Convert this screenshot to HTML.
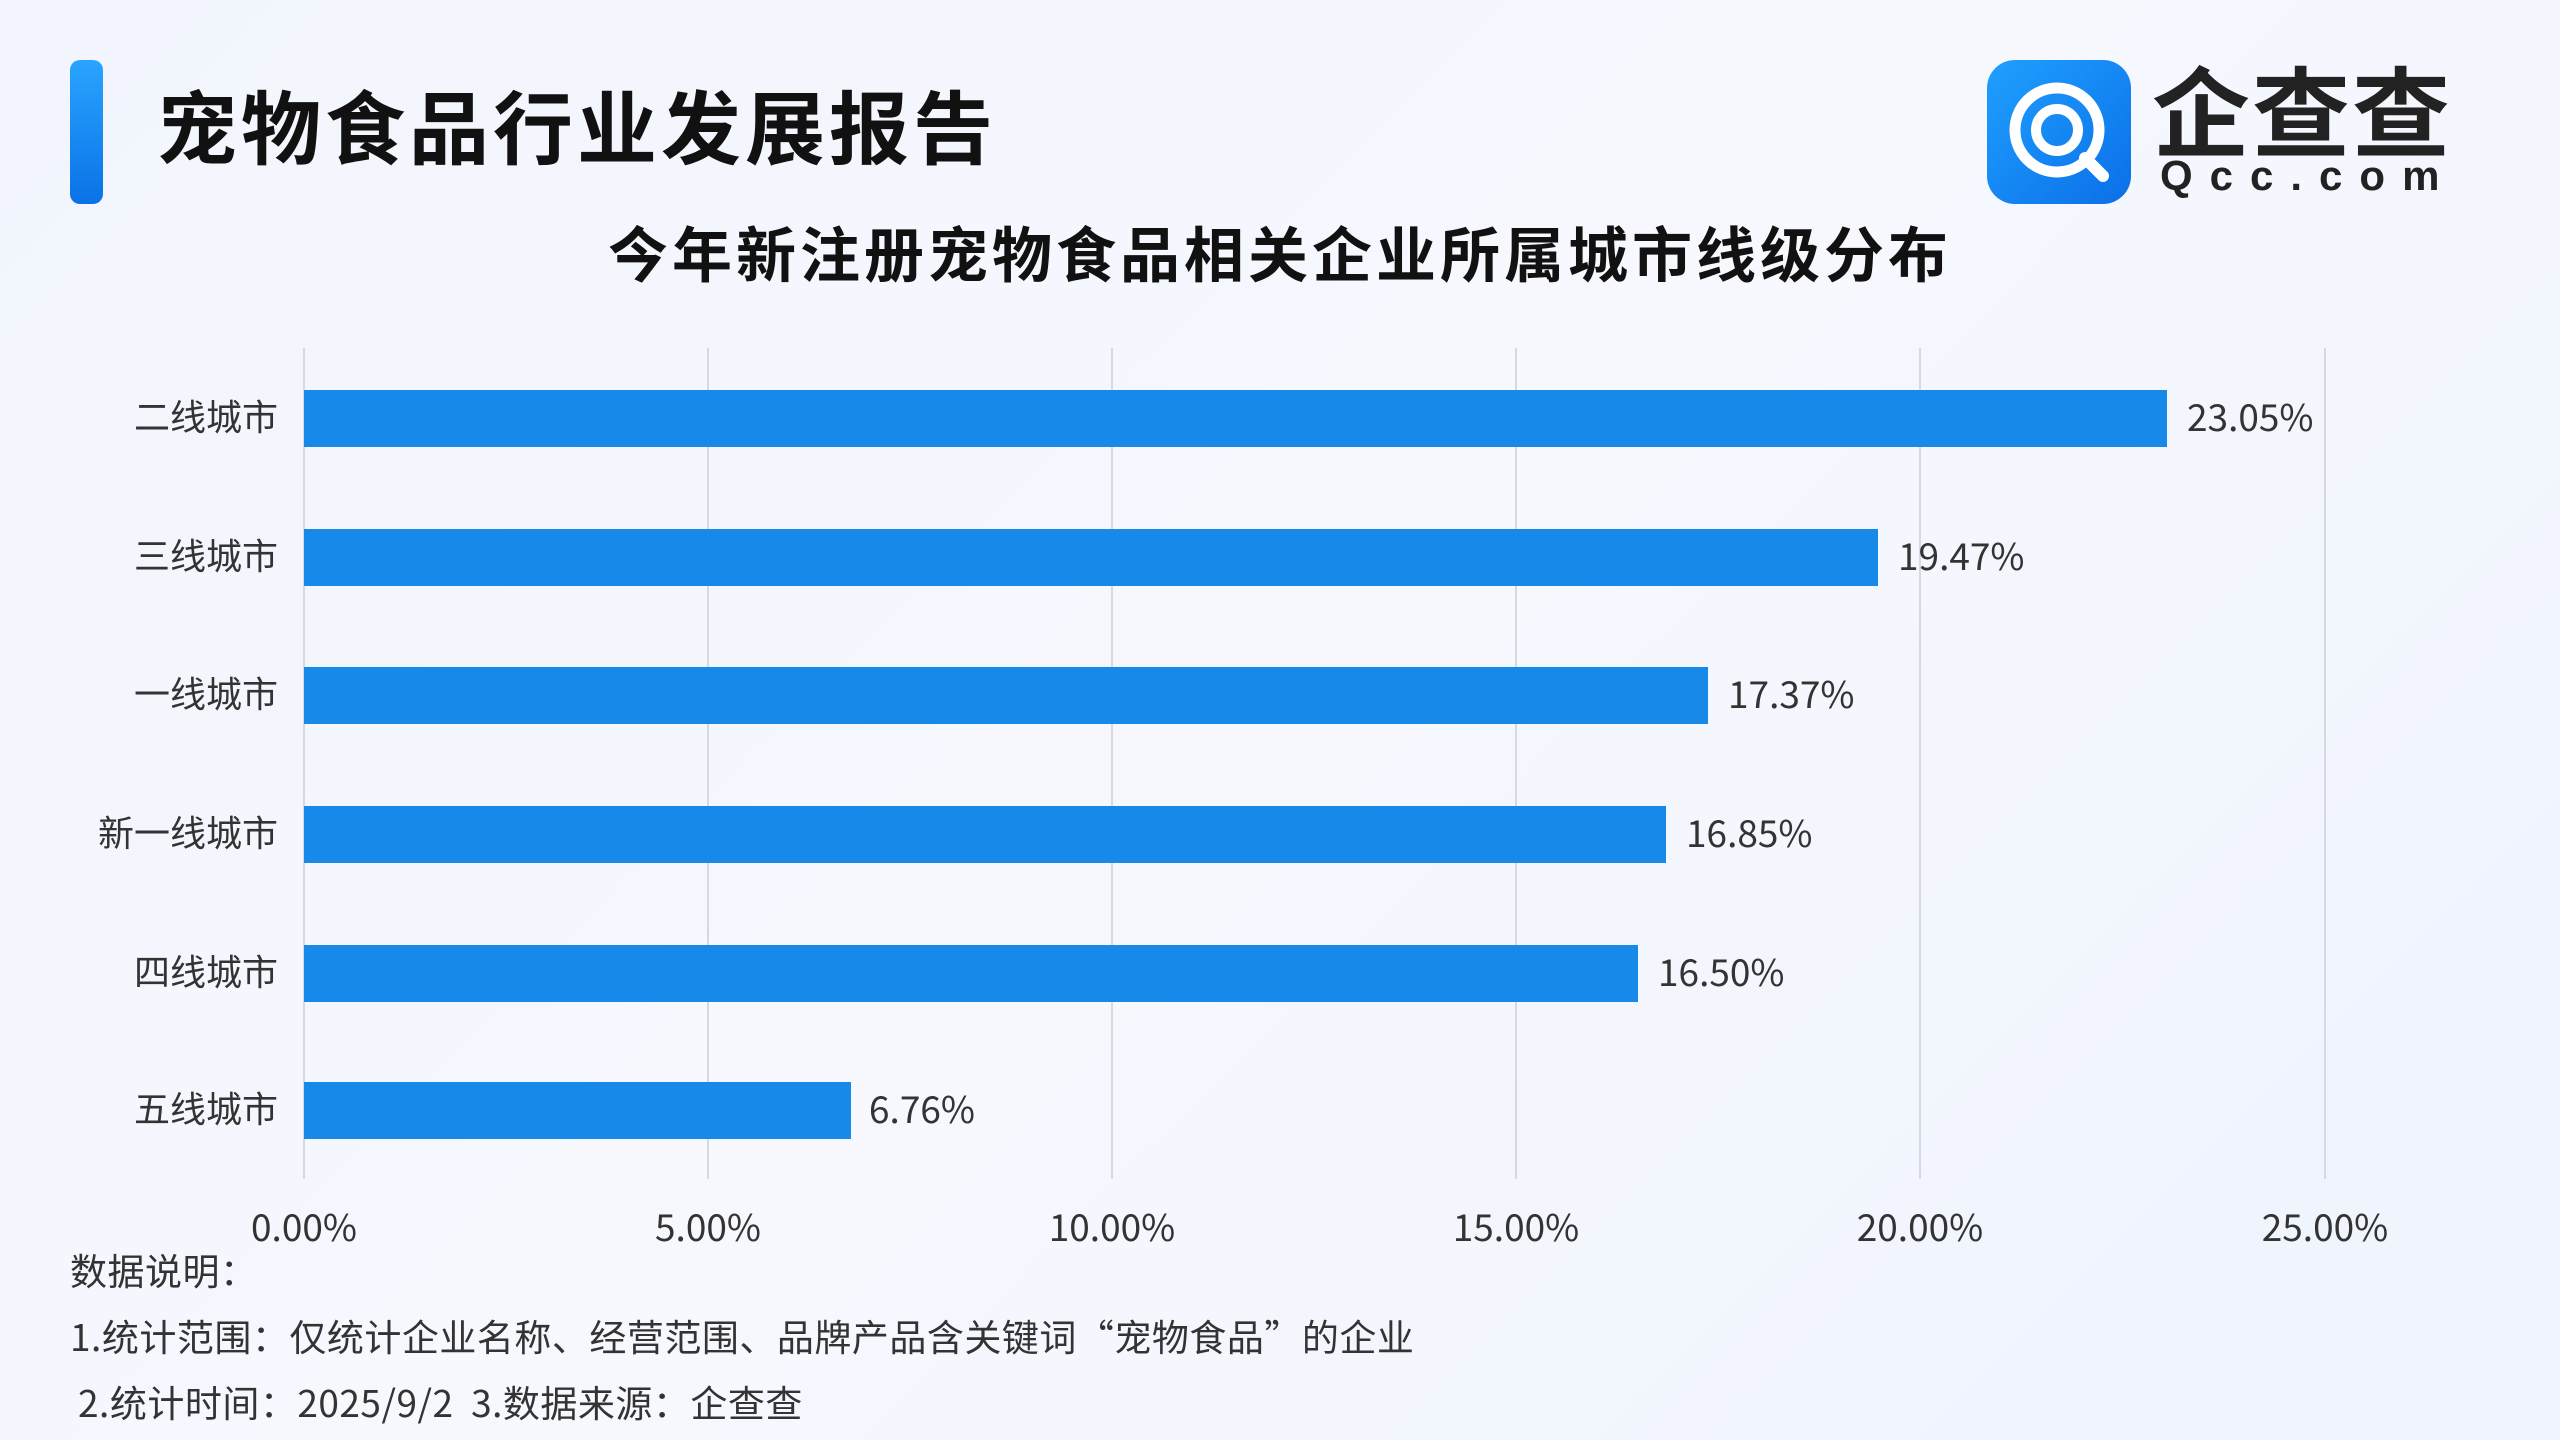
<!DOCTYPE html>
<html><head><meta charset="utf-8"><style>
body{margin:0;width:2560px;height:1440px;overflow:hidden;background:linear-gradient(135deg,#f2f5fd 0%,#f6f8fe 50%,#eef3fc 100%);font-family:"Noto Sans CJK SC","Liberation Sans",sans-serif;position:relative;color:#222}
.a{position:absolute}
.grid{position:absolute;top:348px;width:2px;height:831px;background:#d6d9e0}
.bar{position:absolute;left:304px;height:57px;background:#1789e9}
.cat{position:absolute;right:2282px;font-size:36px;color:#333;transform:translateY(-50%);white-space:nowrap;margin-top:-3px}
.val{position:absolute;font-size:37px;color:#333;transform:translateY(-50%);margin-top:-3px}
.tick{position:absolute;top:1198px;font-size:37px;color:#333;transform:translateX(-50%)}
.note{position:absolute;left:70px;font-size:37px;color:#333;white-space:nowrap;letter-spacing:0.5px}
</style></head><body>
<div class="a" style="left:70px;top:60px;width:33px;height:144px;border-radius:10px;background:linear-gradient(#2aa4ff,#0a72e6)"></div>
<div class="a" style="left:157px;top:72px;font-size:80px;font-weight:bold;color:#111;line-height:105px;letter-spacing:4px">宠物食品行业发展报告</div>
<div class="a" style="left:1987px;top:60px;width:144px;height:144px;border-radius:28px;background:linear-gradient(135deg,#1fa0ff,#0b6fe8)">
<svg width="144" height="144"><circle cx="70" cy="70" r="42" fill="none" stroke="#fff" stroke-width="11"/><circle cx="70" cy="70" r="21" fill="none" stroke="#fff" stroke-width="10"/><line x1="98" y1="98" x2="116" y2="116" stroke="#fff" stroke-width="12" stroke-linecap="round"/></svg></div>
<div class="a" style="left:2152px;top:52px;font-size:98px;font-weight:bold;color:#222;line-height:110px;letter-spacing:2px">企查查</div>
<div class="a" style="left:2160px;top:152px;font-size:42px;font-weight:bold;color:#222;letter-spacing:17px;font-family:'Liberation Sans',sans-serif">Qcc.com</div>
<div class="a" style="left:0;width:2560px;text-align:center;top:208px;font-size:60px;font-weight:bold;color:#111;letter-spacing:4px">今年新注册宠物食品相关企业所属城市线级分布</div>
<div class="grid" style="left:303px"></div>
<div class="grid" style="left:707px"></div>
<div class="grid" style="left:1111px"></div>
<div class="grid" style="left:1515px"></div>
<div class="grid" style="left:1919px"></div>
<div class="grid" style="left:2324px"></div>
<div class="bar" style="top:390px;width:1863px"></div>
<div class="bar" style="top:529px;width:1574px"></div>
<div class="bar" style="top:667px;width:1404px"></div>
<div class="bar" style="top:806px;width:1362px"></div>
<div class="bar" style="top:945px;width:1334px"></div>
<div class="bar" style="top:1082px;width:547px"></div>
<div class="cat" style="top:418px">二线城市</div>
<div class="cat" style="top:557px">三线城市</div>
<div class="cat" style="top:695px">一线城市</div>
<div class="cat" style="top:834px">新一线城市</div>
<div class="cat" style="top:973px">四线城市</div>
<div class="cat" style="top:1110px">五线城市</div>
<div class="val" style="left:2187px;top:418px">23.05%</div>
<div class="val" style="left:1898px;top:557px">19.47%</div>
<div class="val" style="left:1728px;top:695px">17.37%</div>
<div class="val" style="left:1686px;top:834px">16.85%</div>
<div class="val" style="left:1658px;top:973px">16.50%</div>
<div class="val" style="left:869px;top:1110px">6.76%</div>
<div class="tick" style="left:304px">0.00%</div>
<div class="tick" style="left:708px">5.00%</div>
<div class="tick" style="left:1112px">10.00%</div>
<div class="tick" style="left:1516px">15.00%</div>
<div class="tick" style="left:1920px">20.00%</div>
<div class="tick" style="left:2325px">25.00%</div>
<div class="note" style="top:1242px">数据说明：</div>
<div class="note" style="top:1308px">1.统计范围：仅统计企业名称、经营范围、品牌产品含关键词“宠物食品”的企业</div>
<div class="note" style="top:1374px;left:78px">2.统计时间：2025/9/2 &nbsp;3.数据来源：企查查</div>
</body></html>
